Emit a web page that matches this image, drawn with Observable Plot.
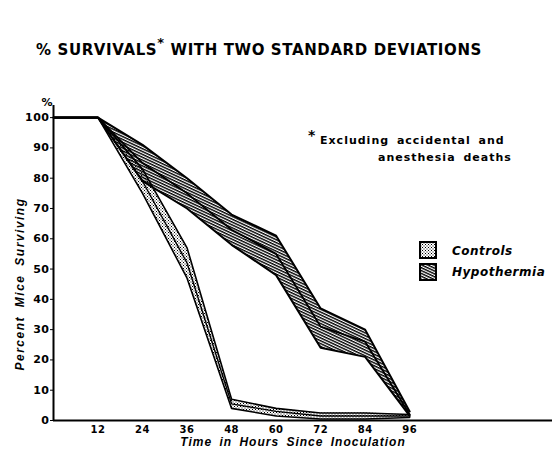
<!DOCTYPE html>
<html>
<head>
<meta charset="utf-8">
<script src="https://cdn.jsdelivr.net/npm/d3@7"></script>
<script src="https://cdn.jsdelivr.net/npm/@observablehq/plot@0.6"></script>
<style>
  body { margin: 0; background: #fff; }
  #wrap { position: relative; width: 552px; height: 450px; overflow: hidden;
          font-family: "DejaVu Sans", sans-serif; color: #000; }
  #title { position: absolute; left: 36px; top: 37px; font-size: 15px; font-weight: bold;
           white-space: nowrap; line-height: 16px; }
  #title sup { font-size: 13px; position: relative; top: -2px; }
  #chart { position: absolute; left: 0; top: 70px; }
  .note { position: absolute; font-size: 11px; font-weight: bold; white-space: nowrap;
          letter-spacing: 1px; word-spacing: 3px; line-height: 12px; }
  .leg { position: absolute; font-size: 12px; font-weight: bold; font-style: italic;
         white-space: nowrap; letter-spacing: 0.5px; line-height: 14px; }
  .sw { position: absolute; width: 18px; height: 18px; }
</style>
</head>
<body>
<div id="wrap">
  <div id="title"></div>
  <div id="chart"></div>
  <div class="note" id="star" style="left:308px; top:129px; font-size:14px;">*</div>
  <div class="note" id="note1" style="left:320px; top:135px;"></div>
  <div class="note" id="note2" style="left:378px; top:152px;"></div>
  <svg class="sw" style="left:419px; top:241px;"><rect x="1" y="1" width="16" height="16" fill="#fff"/><rect x="1" y="1" width="16" height="16" fill="url(#stipple)"/><rect x="1" y="1" width="16" height="16" fill="none" stroke="#000" stroke-width="2"/></svg>
  <svg class="sw" style="left:419px; top:263px;"><rect x="1" y="1" width="16" height="16" fill="#fff"/><rect x="1" y="1" width="16" height="16" fill="url(#hatch)"/><rect x="1" y="1" width="16" height="16" fill="none" stroke="#000" stroke-width="2"/></svg>
  <div class="leg" id="leg1" style="left:452px; top:244px;"></div>
  <div class="leg" id="leg2" style="left:452px; top:265px;"></div>
</div>
<script>
// ---- data ----
const hours          = [0, 12, 24, 36, 48, 60, 72, 84, 96];
const controlsMean   = [100, 100, 79, 52, 5.5, 3, 1.5, 1.5, 1.5];
const controlsUpper  = [100, 100, 83, 57, 7, 4, 2.5, 2.5, 2];
const controlsLower  = [100, 100, 75, 47, 4, 1.5, 0.5, 0.5, 1];
const hypoMean       = [100, 100, 85, 75, 63, 55, 31, 26, 2];
const hypoUpper      = [100, 100, 91, 80, 68, 61, 37, 30, 3];
const hypoLower      = [100, 100, 79, 70, 58, 48, 24, 21, 1.5];
const xTicks = [12, 24, 36, 48, 60, 72, 84, 96];
const yTicks = [0, 10, 20, 30, 40, 50, 60, 70, 80, 90, 100];
const titleText = "% SURVIVALS";
const titleRest = " WITH TWO STANDARD DEVIATIONS";
const xLabel = "Time in Hours Since Inoculation";
const yLabel = "Percent Mice Surviving";
const noteLines = ["Excluding accidental and", "anesthesia deaths"];
const seriesNames = ["Controls", "Hypothermia"];

const rows = hours.map((h, i) => ({
  h, cm: controlsMean[i], cu: controlsUpper[i], cl: controlsLower[i],
  hm: hypoMean[i], hu: hypoUpper[i], hl: hypoLower[i]
}));

const chart = Plot.plot({
  width: 552, height: 380,
  marginTop: 35, marginBottom: 30, marginLeft: 53, marginRight: 0,
  x: {domain: [0, 134.5]},
  y: {domain: [0, 104]},
  style: {fontFamily: "DejaVu Sans", fontWeight: "bold", fontSize: "11px", background: "transparent", overflow: "visible"},
  marks: [
    Plot.areaY(rows, {x: "h", y1: "hl", y2: "hu", fill: "url(#hatch)"}),
    Plot.areaY(rows, {x: "h", y1: "cl", y2: "cu", fill: "url(#stipple)"}),
    Plot.lineY(rows, {x: "h", y: "hu", stroke: "#000", strokeWidth: 2}),
    Plot.lineY(rows, {x: "h", y: "hl", stroke: "#000", strokeWidth: 2}),
    Plot.lineY(rows, {x: "h", y: "hm", stroke: "#000", strokeWidth: 1.8}),
    Plot.lineY(rows, {x: "h", y: "cu", stroke: "#000", strokeWidth: 1.6}),
    Plot.lineY(rows, {x: "h", y: "cl", stroke: "#000", strokeWidth: 1.6}),
    Plot.lineY(rows, {x: "h", y: "cm", stroke: "#000", strokeWidth: 1.4}),
    Plot.ruleX([0], {y1: 0, y2: 104, stroke: "#000", strokeWidth: 2}),
    Plot.ruleY([0], {stroke: "#000", strokeWidth: 2}),
    Plot.axisY({ticks: yTicks, tickSize: 3, tickPadding: 1, label: null, fontSize: 11}),
    Plot.axisX({ticks: xTicks, tickSize: 0, tickPadding: 5, label: null, fontSize: 10}),
    Plot.text(["%"], {frameAnchor: "top-left", dx: -12, dy: -7, fontSize: 11, fontWeight: "bold"}),
    Plot.text([xLabel], {frameAnchor: "bottom", dx: -10, dy: 25, fontSize: 12, fontWeight: "bold", fontStyle: "italic", fontFamily: "Liberation Sans", text: d => d}),
    Plot.text([yLabel], {frameAnchor: "left", textAnchor: "middle", dx: -33, dy: 21, rotate: -90, fontSize: 12, fontWeight: "bold", fontStyle: "italic", fontFamily: "Liberation Sans", text: d => d})
  ]
});
document.getElementById("chart").appendChild(chart);

// patterns for the bands
const defs = d3.select(chart).insert("defs", ":first-child");
const hatch = defs.append("pattern").attr("id", "hatch")
  .attr("patternUnits", "userSpaceOnUse").attr("width", 6).attr("height", 2.6)
  .attr("patternTransform", "rotate(25)");
hatch.append("rect").attr("width", 6).attr("height", 1.4).attr("fill", "#000");
const stip = defs.append("pattern").attr("id", "stipple")
  .attr("patternUnits", "userSpaceOnUse").attr("width", 3).attr("height", 3);
stip.append("rect").attr("x", 0).attr("y", 0).attr("width", 1).attr("height", 1).attr("fill", "#000");
stip.append("rect").attr("x", 1.5).attr("y", 1.5).attr("width", 1).attr("height", 1).attr("fill", "#000");

// letter-spaced texts
d3.select(chart).selectAll("text").style("letter-spacing", "0.5px");
d3.select(chart).selectAll("text").filter(function() { return this.textContent === yLabel; })
  .style("letter-spacing", "1.5px").style("word-spacing", "4px");
d3.select(chart).selectAll("text").filter(function() { return this.textContent === xLabel; })
  .style("letter-spacing", "1px").style("word-spacing", "3px");

const title = document.getElementById("title");
title.innerHTML = titleText + "<sup>*</sup>" + titleRest;
// fit the title to its width in the reference
title.style.letterSpacing = "0px";
const natural = title.getBoundingClientRect().width;
const nChars = (titleText + "*" + titleRest).length;
title.style.letterSpacing = ((446 - natural) / nChars) + "px";

document.getElementById("note1").textContent = noteLines[0];
document.getElementById("note2").textContent = noteLines[1];
document.getElementById("leg1").textContent = seriesNames[0];
document.getElementById("leg2").textContent = seriesNames[1];
</script>
</body>
</html>
